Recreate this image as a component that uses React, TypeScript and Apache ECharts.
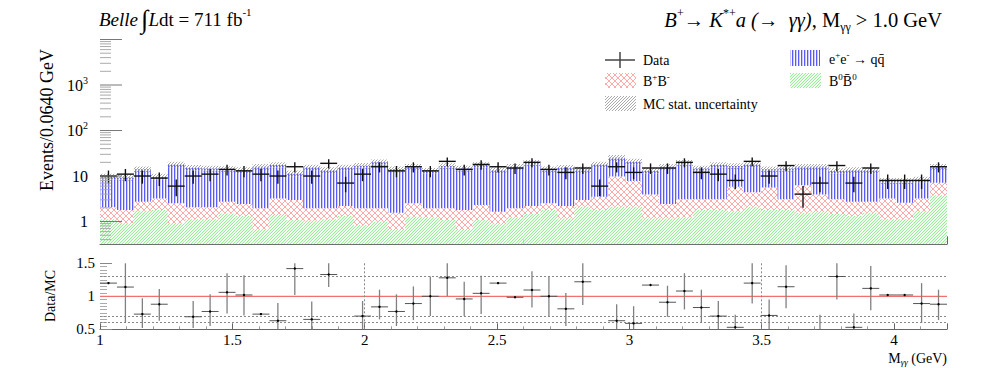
import React, { useEffect, useRef } from 'react';
import * as echarts from 'echarts';

const X_MIN = 1.0;
const X_MAX = 4.2;
const BIN_WIDTH = 0.064;
const Y_MIN = 0.316;
const Y_MAX = 10000;

// Data counts per bin (Belle data)
const dataCounts = [10, 11, 10, 9, 6, 10, 11, 14, 13, 11, 10, 16, 10, 19, 7, 11, 16, 13, 16, 13, 21, 14, 18, 16, 15, 20, 14, 12, 15, 6, 16, 12, 15, 15, 20, 12, 11, 8, 21, 10, 17, 4, 7, 17, 7, 15, 8, 8, 8, 16];
const dataErr = [3.2, 3.3, 3.2, 3.0, 2.4, 3.2, 3.3, 3.7, 3.6, 3.3, 3.2, 4.0, 3.2, 4.4, 2.6, 3.3, 4.0, 3.6, 4.0, 3.6, 4.6, 3.7, 4.2, 4.0, 3.9, 4.5, 3.7, 3.5, 3.9, 2.4, 4.0, 3.5, 3.9, 3.9, 4.5, 3.5, 3.3, 2.8, 4.6, 3.2, 4.1, 2.0, 2.6, 4.1, 2.6, 3.9, 2.8, 2.8, 2.8, 4.0];

// MC components (stacked: B0B0bar bottom, B+B- middle, qqbar top)
const bbNeutral = [1.12, 0.91, 1.73, 1.79, 0.91, 1.12, 1.12, 1.51, 1.32, 0.68, 1.39, 1.08, 1.04, 1.12, 1.32, 0.84, 0.99, 0.65, 1.28, 1.23, 1.08, 0.65, 1.08, 0.87, 1.23, 1.46, 1.79, 1.17, 2.12, 1.79, 2.12, 2.12, 1.17, 1.17, 1.23, 1.79, 1.79, 1.64, 2.12, 1.79, 1.79, 1.56, 1.59, 1.46, 1.32, 1.56, 1.12, 1.12, 1.70, 3.8];
const bbCharged = [0.93, 0.88, 1.0, 1.4, 1.6, 0.93, 0.93, 1.22, 1.1, 1.27, 1.81, 1.89, 0.91, 0.83, 0.87, 1.11, 0.96, 0.91, 1.23, 0.72, 0.87, 1.14, 1.23, 0.77, 0.72, 0.73, 0.72, 1.02, 0.85, 1.71, 7.6, 5.7, 2.78, 1.25, 1.84, 1.28, 1.28, 4.16, 2.28, 3.81, 1.28, 4.74, 2.36, 1.61, 1.41, 1.17, 2.08, 1.47, 1.5, 3.3];
const qqbar = [7.65, 7.5, 11.3, 6.5, 15.5, 13.15, 12.65, 11.5, 11.1, 14.05, 14.3, 8.5, 13.55, 11.55, 13.3, 14.95, 18.05, 12.45, 13.5, 11.15, 14.65, 12.9, 15.2, 11.85, 14.05, 17.4, 11.5, 13.0, 11.0, 14.5, 15.6, 12.9, 9.15, 13.6, 16.5, 11.6, 14.4, 10.8, 13.6, 8.4, 11.6, 9.7, 12.05, 9.8, 10.8, 10.8, 4.7, 5.3, 5.2, 8.9];
const mcErr = [1.5, 1.4, 2.1, 1.5, 2.7, 2.3, 2.2, 2.1, 2.0, 2.4, 2.6, 1.7, 2.3, 2.0, 2.3, 2.5, 3.0, 2.1, 2.4, 2.0, 2.5, 2.2, 2.6, 2.0, 2.4, 2.9, 2.1, 2.3, 2.1, 2.7, 3.8, 3.1, 2.0, 2.4, 2.9, 2.2, 2.6, 2.5, 2.7, 2.1, 2.2, 2.4, 2.4, 1.9, 2.0, 2.0, 1.2, 1.2, 1.3, 2.4];

// Data/MC ratio (null = off scale)
const ratio = [1.20, 1.14, 0.73, 0.88, null, 0.69, 0.77, 1.06, 1.02, 0.73, 0.63, 1.42, 0.65, 1.33, null, 0.70, 0.84, 0.77, 0.89, 1.00, 1.28, 0.96, 1.045, 1.20, 0.985, 1.095, 1.00, 0.81, 1.22, null, 0.63, 0.59, 1.17, 0.91, 1.08, 0.83, 0.70, 0.53, 1.20, 0.71, 1.145, null, 0.44, 1.30, 0.53, 1.12, 1.02, 1.02, 0.89, 0.88];
const ratioLo = [1.20, 0.60, 0.52, 0.63, null, 0.52, 0.55, 0.74, 0.71, 0.72, 0.50, 1.02, 0.50, 1.14, null, 0.50, 0.65, 0.55, 0.64, 0.70, 1.00, 0.70, 0.73, 1.20, 0.985, 0.83, 0.70, 0.55, 0.87, null, 0.50, 0.50, 1.17, 0.69, 0.80, 0.60, 0.50, 0.50, 0.89, 0.50, 0.82, null, 0.30, 0.95, 0.50, 0.79, 1.02, 1.02, 0.60, 0.64];
const ratioHi = [1.20, 1.50, 0.97, 1.11, null, 0.93, 1.03, 1.35, 1.32, 0.74, 0.90, 1.50, 0.92, 1.50, null, 0.93, 1.10, 1.03, 1.15, 1.30, 1.50, 1.22, 1.31, 1.20, 0.985, 1.38, 1.30, 1.05, 1.50, null, 0.88, 0.85, 1.17, 1.16, 1.35, 1.10, 0.93, 0.72, 1.50, 0.95, 1.47, null, 0.72, 1.50, 0.74, 1.46, 1.02, 1.02, 1.20, 1.10];

const ratioGuidesY = [1.3, 0.7, 0.6];
const ratioGuidesX = [2.0, 3.5];
const logMajorTicks = [1, 10, 100, 1000, 10000];
const logMinorMultipliers = [2, 3, 4, 5, 6, 7, 8, 9];

const FONT = "'Liberation Serif', 'DejaVu Serif', 'Times New Roman', serif";

function makePattern(kind: string) {
  const s = kind === 'red' ? 6 : 3;
  const c = document.createElement('canvas');
  c.width = s;
  c.height = s;
  const ctx = c.getContext('2d')!;
  const img = ctx.createImageData(s, s);
  const set = (x: number, y: number, r: number, g: number, b: number, a: number) => {
    const k = (y * s + x) * 4;
    img.data[k] = r; img.data[k + 1] = g; img.data[k + 2] = b; img.data[k + 3] = a;
  };
  for (let y = 0; y < s; y++) {
    for (let x = 0; x < s; x++) {
      if (kind === 'blue') {
        if (x === 0) set(x, y, 90, 90, 245, 255);
        else if (x === 1) set(x, y, 200, 200, 255, 255);
        else set(x, y, 250, 250, 255, 255);
      } else if (kind === 'red') {
        if ((x + y) % s === s - 1 || (x - y + s) % s === 0) set(x, y, 255, 120, 120, 160);
      } else if (kind === 'green') {
        if ((x + y) % s === s - 1) set(x, y, 150, 238, 150, 255);
        else set(x, y, 242, 253, 242, 255);
      } else if (kind === 'gray') {
        if ((x + y) % s === s - 1) set(x, y, 150, 150, 150, 210);
      }
    }
  }
  ctx.putImageData(img, 0, 0);
  return { image: c.toDataURL(), repeat: 'repeat', imageWidth: s, imageHeight: s } as any;
}

function binX0(i: number) { return X_MIN + i * BIN_WIDTH; }

export default function App() {
  const ref = useRef<HTMLDivElement>(null);

  useEffect(() => {
    document.body.style.margin = '0';
    if (!ref.current) return;
    const chart = echarts.init(ref.current, undefined, { renderer: 'svg' });

    const pBlue = makePattern('blue');
    const pRed = makePattern('red');
    const pGreen = makePattern('green');
    const pGray = makePattern('gray');

    const green = bbNeutral.map((g, i) => [binX0(i), binX0(i + 1), Y_MIN, g]);
    const red = bbNeutral.map((g, i) => [binX0(i), binX0(i + 1), g, g + bbCharged[i]]);
    const blue = bbNeutral.map((g, i) => [binX0(i), binX0(i + 1), g + bbCharged[i], g + bbCharged[i] + qqbar[i]]);
    const band = bbNeutral.map((g, i) => {
      const t = g + bbCharged[i] + qqbar[i];
      return [binX0(i), binX0(i + 1), t - mcErr[i], t + mcErr[i]];
    });
    const dataPts = dataCounts.map((v, i) => [binX0(i), binX0(i + 1), v, v - dataErr[i], v + dataErr[i]]);
    const ratioPts: number[][] = [];
    ratio.forEach((v, i) => {
      if (v == null) return;
      ratioPts.push([binX0(i), binX0(i + 1), v, ratioLo[i] as number, ratioHi[i] as number]);
    });
    const yTicks: number[][] = [];
    logMajorTicks.forEach((m) => {
      yTicks.push([X_MIN, m, 1]);
      logMinorMultipliers.forEach((k) => {
        const v = m * k;
        if (v < Y_MAX) yTicks.push([X_MIN, v, 0]);
      });
    });
    [0.4, 0.5, 0.6, 0.7, 0.8, 0.9].forEach((v) => yTicks.push([X_MIN, v, 0]));

    const rectSeries = (name: string, data: number[][], fill: any, z: number) => ({
      type: 'custom',
      name,
      xAxisIndex: 0,
      yAxisIndex: 0,
      z,
      silent: true,
      clip: true,
      encode: { x: [0, 1], y: [2, 3] },
      data,
      renderItem: (params: any, api: any) => {
        const a = api.coord([api.value(0), api.value(2)]);
        const b = api.coord([api.value(1), api.value(3)]);
        return {
          type: 'rect',
          shape: { x: a[0], y: Math.min(a[1], b[1]), width: b[0] - a[0], height: Math.abs(a[1] - b[1]) },
          style: { fill },
        };
      },
    });

    const option: any = {
      animation: false,
      grid: [
        { left: 100, right: 50, top: 39.5, height: 204.8, outerBoundsMode: 'none', containLabel: false },
        { left: 100, right: 50, top: 263.3, height: 66, outerBoundsMode: 'none', containLabel: false },
      ],
      xAxis: [
        {
          type: 'value', gridIndex: 0, min: X_MIN, max: X_MAX, interval: 0.5,
          axisLabel: { show: false },
          axisLine: { show: true, lineStyle: { color: '#666', width: 1 } },
          axisTick: { show: true, inside: true, length: 8, lineStyle: { color: '#666' } },
          minorTick: { show: true, splitNumber: 5, length: 5, lineStyle: { color: '#777' } },
          splitLine: { show: false },
        },
        {
          type: 'value', gridIndex: 1, min: X_MIN, max: X_MAX, interval: 0.5,
          axisLabel: { show: true, showMaxLabel: false, margin: 3, fontFamily: FONT, fontSize: 15, color: '#000' },
          axisLine: { show: true, lineStyle: { color: '#666', width: 1 } },
          axisTick: { show: true, inside: true, length: 6, lineStyle: { color: '#666' } },
          minorTick: { show: true, splitNumber: 5, length: 3, lineStyle: { color: '#999' } },
          splitLine: { show: false },
        },
      ],
      yAxis: [
        {
          type: 'log', gridIndex: 0, min: Y_MIN, max: Y_MAX, logBase: 10, splitNumber: 5,
          axisLine: { show: false },
          axisTick: { show: false },
          splitLine: { show: false },
          axisLabel: {
            margin: 12,
            fontFamily: FONT,
            fontSize: 16,
            color: '#000',
            formatter: (v: number) => {
              if (Math.abs(v - 1) < 1e-6) return '{b|1}';
              if (Math.abs(v - 10) < 1e-6) return '{b|10}';
              if (Math.abs(v - 100) < 1e-4) return '{b|10}{s|2}';
              if (Math.abs(v - 1000) < 1e-3) return '{b|10}{s|3}';
              return '';
            },
            rich: {
              b: { fontFamily: FONT, fontSize: 16, color: '#000', lineHeight: 20 },
              s: { fontFamily: FONT, fontSize: 10, color: '#000', verticalAlign: 'top', lineHeight: 20 },
            },
          },
        },
        {
          type: 'value', gridIndex: 1, min: 0.5, max: 1.5, interval: 0.5,
          axisLine: { show: false },
          axisTick: { show: true, inside: true, length: 12, lineStyle: { color: '#888' } },
          minorTick: { show: true, splitNumber: 10, length: 7, lineStyle: { color: '#aaa' } },
          splitLine: { show: false },
          axisLabel: { margin: 5, fontFamily: FONT, fontSize: 15, color: '#000' },
        },
      ],
      series: [
        rectSeries('B0B0', green, pGreen, 1),
        rectSeries('B+B-', red, pRed, 2),
        rectSeries('qq', blue, pBlue, 3),
        rectSeries('MC stat', band, pGray, 4),
        {
          type: 'custom', name: 'Data', xAxisIndex: 0, yAxisIndex: 0, z: 6, silent: true,
          encode: { x: [0, 1], y: [2, 3, 4] },
          data: dataPts,
          renderItem: (params: any, api: any) => {
            const x0 = api.value(0), x1 = api.value(1), v = api.value(2);
            const a = api.coord([x0, v]);
            const b = api.coord([x1, v]);
            const xc = (a[0] + b[0]) / 2;
            const lo = api.coord([x0, api.value(3)]);
            const hi = api.coord([x0, api.value(4)]);
            const st = { stroke: '#111', lineWidth: 1.4 };
            return {
              type: 'group',
              children: [
                { type: 'line', shape: { x1: a[0], y1: a[1], x2: b[0], y2: b[1] }, style: st },
                { type: 'line', shape: { x1: xc, y1: lo[1], x2: xc, y2: hi[1] }, style: st },
              ],
            };
          },
        },
        {
          type: 'custom', name: 'yticks', xAxisIndex: 0, yAxisIndex: 0, z: 7, silent: true,
          encode: { x: 0, y: 1 },
          data: yTicks,
          renderItem: (params: any, api: any) => {
            const p = api.coord([api.value(0), api.value(1)]);
            const major = api.value(2) === 1;
            return {
              type: 'line',
              shape: { x1: p[0], y1: p[1], x2: p[0] + (major ? 22 : 11), y2: p[1] },
              style: { stroke: major ? '#777' : '#aaa', lineWidth: 1 },
            };
          },
        },
        {
          type: 'line', xAxisIndex: 1, yAxisIndex: 1, silent: true, symbol: 'none', z: 3,
          data: [[X_MIN, 1], [X_MAX, 1]],
          lineStyle: { color: '#f07070', width: 1.3 },
          markLine: {
            silent: true, symbol: 'none', label: { show: false },
            lineStyle: { color: '#888', type: [2, 2], width: 1 },
            data: [
              ...ratioGuidesY.map((v) => ({ yAxis: v })),
              ...ratioGuidesX.map((v) => ({ xAxis: v })),
            ],
          },
        },
        {
          type: 'custom', name: 'Ratio', xAxisIndex: 1, yAxisIndex: 1, z: 6, silent: true,
          encode: { x: [0, 1], y: [2, 3, 4] },
          data: ratioPts,
          renderItem: (params: any, api: any) => {
            const clamp = (v: number) => Math.max(0.5, Math.min(1.5, v));
            const x0 = api.value(0), x1 = api.value(1), v = api.value(2);
            const lo = clamp(api.value(3)), hi = clamp(api.value(4));
            const children: any[] = [];
            const a = api.coord([x0, clamp(v)]);
            const b = api.coord([x1, clamp(v)]);
            const xc = (a[0] + b[0]) / 2;
            const pl = api.coord([x0, lo]);
            const ph = api.coord([x0, hi]);
            if (hi > lo) {
              children.push({ type: 'line', shape: { x1: xc, y1: pl[1], x2: xc, y2: ph[1] }, style: { stroke: '#808080', lineWidth: 1.3 } });
            }
            if (v >= 0.5 && v <= 1.5) {
              children.push({ type: 'line', shape: { x1: a[0], y1: a[1], x2: b[0], y2: b[1] }, style: { stroke: '#555', lineWidth: 1 } });
              children.push({ type: 'circle', shape: { cx: xc, cy: a[1], r: 1.2 }, style: { fill: '#000' } });
            }
            return { type: 'group', children };
          },
        },
      ],
      graphic: [
        {
          type: 'text', x: 99, y: 19,
          style: {
            text: '{i|Belle} {int|∫}{i|L}{n|dt = 711 fb}{s|-1}',
            verticalAlign: 'middle', align: 'left',
            rich: {
              i: { fontFamily: FONT, fontSize: 19, fontStyle: 'italic', fill: '#000', lineHeight: 26 },
              n: { fontFamily: FONT, fontSize: 19, fill: '#000', lineHeight: 26 },
              int: { fontFamily: FONT, fontSize: 26, fill: '#000', lineHeight: 26 },
              s: { fontFamily: FONT, fontSize: 11, fill: '#000', verticalAlign: 'top', lineHeight: 26 },
            },
          },
        },
        {
          type: 'text', x: 942, y: 20,
          style: {
            text: '{i|B}{s|+}{n|→ }{i|K}{s|*+}{i|a (→  γγ)}{n|, M}{u|γγ}{n| > 1.0 GeV}',
            verticalAlign: 'middle', align: 'right',
            rich: {
              i: { fontFamily: FONT, fontSize: 20.5, fontStyle: 'italic', fill: '#000', lineHeight: 26 },
              n: { fontFamily: FONT, fontSize: 20.5, fill: '#000', lineHeight: 26 },
              s: { fontFamily: FONT, fontSize: 12, fill: '#000', verticalAlign: 'top', lineHeight: 26 },
              u: { fontFamily: FONT, fontSize: 12, fill: '#000', verticalAlign: 'bottom', lineHeight: 26 },
            },
          },
        },
        {
          type: 'text', x: 47, y: 120, rotation: Math.PI / 2,
          style: { text: 'Events/0.0640 GeV', fontFamily: FONT, fontSize: 18, fill: '#000', align: 'center', verticalAlign: 'middle' },
        },
        {
          type: 'text', x: 50, y: 296, rotation: Math.PI / 2,
          style: { text: 'Data/MC', fontFamily: FONT, fontSize: 14, fill: '#000', align: 'center', verticalAlign: 'middle' },
        },
        {
          type: 'text', x: 947, y: 358,
          style: {
            text: '{n|M}{u|γγ}{n| (GeV)}',
            align: 'right', verticalAlign: 'middle',
            rich: {
              n: { fontFamily: FONT, fontSize: 14, fill: '#000', lineHeight: 16 },
              u: { fontFamily: FONT, fontSize: 9, fontStyle: 'italic', fill: '#000', verticalAlign: 'bottom', lineHeight: 16 },
            },
          },
        },
        // Legend
        { type: 'line', shape: { x1: 605, y1: 60, x2: 635, y2: 60 }, style: { stroke: '#444', lineWidth: 1.5 } },
        { type: 'line', shape: { x1: 620, y1: 52, x2: 620, y2: 68 }, style: { stroke: '#444', lineWidth: 1.5 } },
        { type: 'text', x: 643, y: 60, style: { text: 'Data', fontFamily: FONT, fontSize: 14, fill: '#000', verticalAlign: 'middle' } },
        { type: 'rect', shape: { x: 605, y: 73, width: 31, height: 15 }, style: { fill: pRed } },
        {
          type: 'text', x: 643, y: 81,
          style: {
            text: '{n|B}{s|+}{n|B}{s|-}', verticalAlign: 'middle',
            rich: {
              n: { fontFamily: FONT, fontSize: 14, fill: '#000', lineHeight: 18 },
              s: { fontFamily: FONT, fontSize: 9, fill: '#000', verticalAlign: 'top', lineHeight: 18 },
            },
          },
        },
        { type: 'rect', shape: { x: 605, y: 96, width: 31, height: 15 }, style: { fill: pGray } },
        { type: 'text', x: 643, y: 104, style: { text: 'MC stat. uncertainty', fontFamily: FONT, fontSize: 14, fill: '#000', verticalAlign: 'middle' } },
        { type: 'rect', shape: { x: 790, y: 50, width: 30, height: 16 }, style: { fill: pBlue } },
        {
          type: 'text', x: 829, y: 59,
          style: {
            text: '{n|e}{s|+}{n|e}{s|-}{n| → q\u0071\u0304}', verticalAlign: 'middle',
            rich: {
              n: { fontFamily: FONT, fontSize: 14, fill: '#000', lineHeight: 18 },
              s: { fontFamily: FONT, fontSize: 9, fill: '#000', verticalAlign: 'top', lineHeight: 18 },
            },
          },
        },
        { type: 'rect', shape: { x: 790, y: 73, width: 31, height: 15 }, style: { fill: pGreen } },
        {
          type: 'text', x: 829, y: 81,
          style: {
            text: '{n|B}{s|0}{n|B\u0304}{s|0}', verticalAlign: 'middle',
            rich: {
              n: { fontFamily: FONT, fontSize: 14, fill: '#000', lineHeight: 18 },
              s: { fontFamily: FONT, fontSize: 9, fill: '#000', verticalAlign: 'top', lineHeight: 18 },
            },
          },
        },
      ],
    };

    chart.setOption(option);
    return () => chart.dispose();
  }, []);

  return <div ref={ref} style={{ width: 997, height: 368 }} />;
}
